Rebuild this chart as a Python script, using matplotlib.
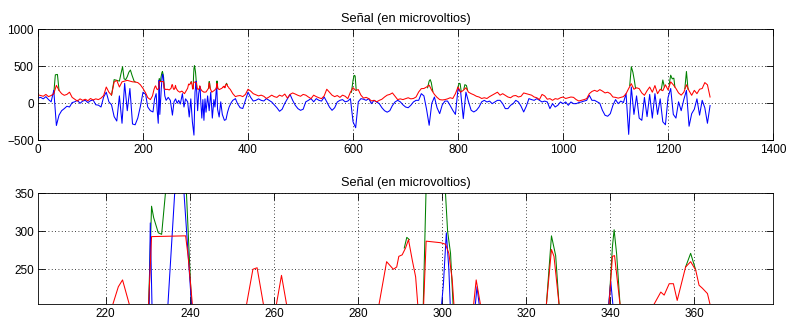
import numpy as np
import matplotlib.pyplot as plt

plt.rcParams['font.family'] = ['Liberation Sans', 'DejaVu Sans']
plt.rcParams['font.size'] = 8

# valores leidos cada 5 muestras (0..200)
red_left = [115, 105, 95, 120, 90, 105, 130, 243, 175, 130,
            108, 120, 150, 80, 55, 30, 60, 40, 55, 35,
            65, 45, 60, 50, 70, 105, 220, 150, 110, 288,
            310, 220, 290, 300, 310, 300, 290, 288, 280, 250,
            200]
blue_left = [70, 80, 60, 90, 50, 20, 175, -300, -160, -100,
             -72, -40, -50, 10, 20, 40, 0, 30, 40, 10,
             35, 45, -20, -25, -50, 85, 150, 20, -20, -180,
             -240, 100, -270, 270, -100, 200, -280, -290, -200, -40,
             150]

# valores leidos cada 5 muestras (380..1280)
red_right = [100, 105, 90, 120, 190, 165, 130, 115, 100, 110,
             95, 65, 85, 110, 90, 80, 110, 95, 125, 70,
             120, 140, 125, 108, 95, 120, 110, 85, 63, 110,
             90, 75, 63, 100, 190, 150, 110, 90, 105, 80,
             110, 95, 63, 150, 210, 175, 185, 110, 70, 80,
             63, 32, 40, 20, 40, 55, 85, 110, 120, 140,
             95, 50, 60, 50, 63, 75, 60, 65, 85, 153,
             198, 200, 220, 245, 175, 120, 80, 50, 45, 50,
             60, 75, 65, 130, 220, 150, 175, 210, 150, 130,
             115, 95, 85, 65, 75, 65, 90, 110, 130, 150,
             110, 130, 108, 85, 75, 100, 105, 85, 95, 140,
             130, 120, 110, 85, 75, 50, 120, 100, 55, 63,
             40, 63, 55, 75, 85, 65, 75, 85, 80, 50,
             31, 40, 50, 63, 130, 160, 175, 160, 185, 165,
             140, 150, 130, 85, 80, 70, 80, 90, 130, 200,
             265, 190, 210, 198, 140, 108, 170, 220, 150, 240,
             130, 190, 170, 250, 180, 290, 250, 200, 140, 110,
             150, 250, 170, 108, 175, 130, 190, 200, 280, 250,
             85]
blue_right = [-5, -60, -70, 40, 150, 80, 30, 40, 60, 40,
              31, 63, 40, 18, -20, -60, -108, -80, 0, 60,
              120, 40, -27, -72, -95, -80, 20, 40, 63, 20,
              63, 40, 30, 85, 20, -50, -95, -60, 18, 40,
              50, 20, 30, 63, -250, -330, 20, 63, 55, 40,
              63, -5, 40, 18, -5, -60, -100, -120, -100, -30,
              18, 40, 20, -20, -50, -60, -27, 18, 40, 40,
              130, 100, -80, -297, 0, 85, -60, -140, -20, 30,
              30, -30, -95, -150, 200, 150, -207, 150, 20, -95,
              -117, -95, -50, 20, 40, 18, 30, -5, 18, 40,
              40, -5, -72, -72, -27, -5, 40, 18, -40, -117,
              -40, 63, 50, 40, 63, 40, 18, 30, 18, -72,
              -5, -50, -27, 18, -5, 18, -27, 18, -5, -5,
              10, 18, 30, 40, 108, 40, 40, 20, 0, -95,
              -162, -175, -140, -27, 50, -5, 30, 10, 130, -420,
              220, -150, 100, -200, -230, 80, -180, 120, -200, 130,
              -150, 60, -250, -290, 80, 200, -150, -200, 20, -100,
              50, 175, -310, -140, -80, 60, -160, 40, -60, -270,
              -30]

# tramo ampliado (205..376), puntos (muestra, valor)
red_win = [(205, 140), (209, 77), (214, 50), (218, 100), (221, 190), (221.7, 204),
           (223, 227), (224, 236), (225.6, 204), (227, 185), (229, 195), (230.2, 204),
           (230.9, 293), (239, 294), (239.6, 267), (240.6, 204), (243, 185), (246, 190),
           (250, 180), (253.5, 204), (255, 250), (256, 252), (257.5, 204), (259, 185),
           (260.6, 204), (261.8, 242), (263, 204), (266, 170), (270, 150), (274, 165),
           (279, 130), (283, 180), (285, 204), (286.8, 260), (288.4, 250), (289.2, 253),
           (289.7, 267), (290.5, 269), (291.3, 278), (292, 289), (292.9, 262), (293.7, 240),
           (294.2, 204), (295, 190), (295.6, 204), (296.2, 287), (299.6, 285), (300.8, 283),
           (301.6, 271), (302.4, 236), (302.8, 204), (305, 185), (307.5, 204), (308.1, 236),
           (309.1, 204), (312, 170), (316, 150), (320, 153), (324.8, 204), (326, 276),
           (326.6, 267), (327.8, 204), (331, 150), (336, 175), (339.7, 204), (340.5, 267),
           (341, 268), (342.3, 204), (345, 185), (350.4, 204), (352, 220), (352.8, 216),
           (354, 231), (355, 231), (355.9, 209), (357.9, 253), (359.1, 260), (360.3, 249),
           (361.1, 229), (361.9, 225), (363.1, 218), (363.7, 204), (366, 190), (371, 130),
           (376, 90)]
blue_win = [(205, 120), (209, -50), (214, -100), (219, -117), (222, 60), (225, 130),
            (227, -100), (229, -270), (230.1, 100), (230.6, 311), (231.2, 150), (232, -150),
            (233.5, 50), (234.8, 204), (236.4, 350), (237.5, 390), (238.5, 360), (240.4, 204),
            (241.5, 100), (244, 40), (248, 80), (252, 40), (256, -160), (259, 20),
            (262, 60), (265, 0), (268, 40), (271, -10), (275, 130), (278, -50),
            (281, 60), (285, 20), (288, -185), (291, 60), (294, -250), (297, -430),
            (299, 150), (300.3, 230), (301, 298), (301.6, 250), (302.3, 150), (304, -100),
            (306, 130), (307.9, 204), (308.3, 227), (308.8, 204), (310, 20), (312, -200),
            (314, 50), (316, -230), (318, 60), (320, -120), (323, 100), (326, -100),
            (329, 150), (332, -200), (335, 50), (337, -50), (339.6, 204), (340.1, 234),
            (340.6, 204), (342, -80), (345, -185), (348, 20), (351, -150), (355, -230),
            (358, -220), (361, -120), (364, -50), (368, 10), (371, 40), (376, 63)]

# la senal verde solo asoma por encima de la roja en los picos
green_peaks = [
    [(30, 130), (33, 385), (37, 390), (40, 175)],
    [(140, 110), (145, 320), (150, 310), (155, 300), (158, 400), (161, 495), (164, 330),
     (167, 320), (170, 360), (173, 420), (176, 450), (179, 380), (183, 300), (185, 288)],
    [(230.2, 204), (230.9, 333), (231.4, 318), (232.5, 298), (233.3, 296), (234.2, 350),
     (235, 380), (236, 415), (237, 430), (238, 400), (239.2, 350), (239.8, 276), (240.4, 204)],
    [(291, 278), (291.6, 292), (292.2, 289)],
    [(295.5, 200), (296.2, 360), (297, 470), (298, 510), (299, 470), (300, 420),
     (300.8, 350), (301.3, 300), (302, 271), (302.6, 204)],
    [(324.8, 204), (326, 294), (327, 268), (327.8, 204)],
    [(339.7, 204), (340.5, 280), (340.9, 302), (341.5, 270), (342.3, 204)],
    [(357.9, 253), (359.1, 271), (360.3, 249)],
    [(597, 150), (600, 310), (602, 378), (604, 370), (606, 178)],
    [(742, 210), (745, 300), (747, 320), (749, 280), (752, 160)],
    [(799, 200), (802, 270), (804, 265), (806, 160)],
    [(811, 190), (813, 252), (816, 240), (818, 180)],
    [(1127, 240), (1130, 495), (1133, 420), (1136, 300), (1138, 205)],
    [(1187, 180), (1190, 315), (1193, 220)],
    [(1202, 250), (1205, 380), (1208, 330), (1211, 340), (1213, 220)],
    [(1232, 200), (1235, 430), (1238, 190)],
]

title = 'Señal (en microvoltios)'

left_x = np.arange(0, 205, 5)
right_x = 380 + 5 * np.arange(len(red_right))
red_x = np.concatenate([left_x, [p[0] for p in red_win], right_x])
red_y = np.concatenate([red_left, [p[1] for p in red_win], red_right])
blue_x = np.concatenate([left_x, [p[0] for p in blue_win], right_x])
blue_y = np.concatenate([blue_left, [p[1] for p in blue_win], blue_right])

fig = plt.figure(figsize=(7.87, 3.22), dpi=100)
ax1 = fig.add_axes([0.0483, 0.5643, 0.934, 0.3447])
ax2 = fig.add_axes([0.0483, 0.0559, 0.934, 0.3438])

for ax in (ax1, ax2):
    for seg in green_peaks:
        ax.plot([p[0] for p in seg], [p[1] for p in seg], color=(0, 0.5, 0), lw=0.75)
    ax.plot(blue_x, blue_y, color=(0, 0, 1), lw=0.75)
    ax.plot(red_x, red_y, color=(1, 0, 0), lw=0.75)
    ax.set_title(title, fontsize=9.2, pad=5)
    ax.grid(True, color='k', linestyle=(0, (1, 3)), linewidth=0.6)
    ax.tick_params(direction='in', length=5, width=0.6, top=True, right=True,
                   labelsize=8.5, pad=3)
    for s in ax.spines.values():
        s.set_linewidth(0.6)

ax1.set_xlim(0, 1400)
ax1.set_ylim(-500, 1000)
ax1.set_xticks(range(0, 1401, 200))
ax1.set_yticks([-500, 0, 500, 1000])

ax2.set_xlim(203.9, 378.7)
ax2.set_ylim(204.3, 350)
ax2.set_xticks(range(220, 361, 20))
ax2.set_yticks([250, 300, 350])

fig.savefig('out.png', dpi=100)
